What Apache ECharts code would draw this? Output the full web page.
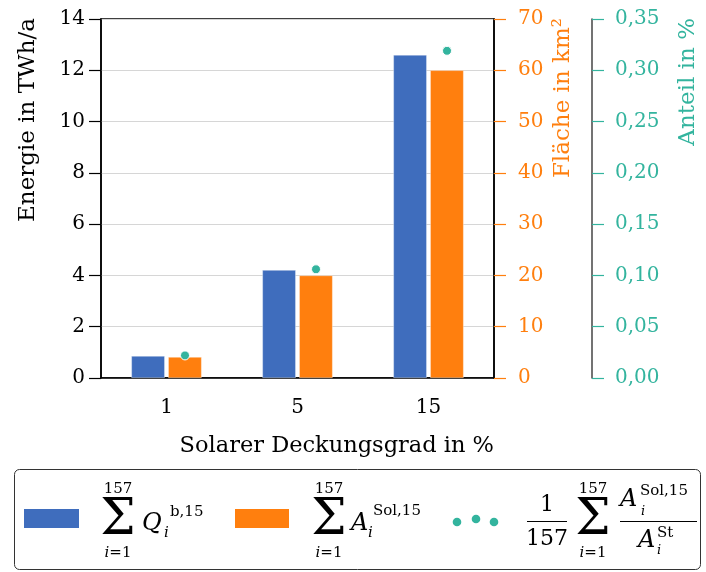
<!DOCTYPE html>
<html>
<head>
<meta charset="utf-8">
<script src="https://cdn.jsdelivr.net/npm/echarts@6/dist/echarts.min.js"></script>
<style>
  html, body { margin: 0; padding: 0; background: #fff; }
  #chart { width: 706px; height: 572px; }
</style>
</head>
<body>
<div id="chart"></div>
<script>
// Solar coverage scenarios and resulting energy, collector area and area share
const categories = ['1', '5', '15'];
const energyTWh = [0.86, 4.21, 12.6];     // sum of Q_i^{b,15}, TWh/a
const areaKm2 = [4.1, 20, 60];            // sum of A_i^{Sol,15}, km²
const sharePct = [0.022, 0.106, 0.319];   // mean A^Sol / A^St, %

const energyTicks = { min: 0, max: 14, interval: 2 };
const areaTicks = { min: 0, max: 70, interval: 10 };
const shareTicks = { min: 0, max: 0.35, interval: 0.05 };

const BLUE = '#3f6dbd';
const ORANGE = '#ff7f0e';
const TEAL = '#33b49e';
const FONT = '"DejaVu Serif", "Liberation Serif", serif';

const chart = echarts.init(document.getElementById('chart'), null, { renderer: 'canvas' });

const G = { left: 101, right: 212, top: 19, bottom: 194 };

function txt(x, y, text, size, opts) {
  opts = opts || {};
  return {
    type: 'text', x: x, y: y, z: 100,
    style: {
      text: text,
      font: (opts.italic ? 'italic ' : '') + size + 'px ' + FONT,
      fill: opts.color || '#000',
      textAlign: opts.align || 'center',
      textVerticalAlign: 'middle',
      rich: opts.rich
    },
    rotation: opts.rotation || 0
  };
}
function limit(x, y) {
  return {
    type: 'text', x: x, y: y, z: 100,
    style: {
      text: '{i|i}=1',
      font: '15px ' + FONT,
      fill: '#000',
      textAlign: 'center',
      textVerticalAlign: 'middle',
      rich: { i: { fontStyle: 'italic', fontSize: 15, fontFamily: FONT } }
    }
  };
}
function sumBlock(cx) {
  return [
    txt(cx, 489, '157', 15),
    txt(cx, 521, 'Σ', 50),
    limit(cx, 553)
  ];
}
function hline(x1, x2, y) {
  return { type: 'line', z: 100, shape: { x1: x1, y1: y, x2: x2, y2: y }, style: { stroke: '#000', lineWidth: 1 } };
}

const legendGraphics = [
  { type: 'rect', z: 90, shape: { x: 14.5, y: 469.5, width: 686, height: 100, r: 5 },
    style: { fill: '#fff', stroke: '#333', lineWidth: 1 } },
  { type: 'rect', z: 100, shape: { x: 24, y: 509, width: 55, height: 19 }, style: { fill: BLUE } },
  { type: 'rect', z: 100, shape: { x: 235, y: 509, width: 54, height: 19 }, style: { fill: ORANGE } },
  { type: 'circle', z: 100, shape: { cx: 457, cy: 522, r: 4.3 }, style: { fill: TEAL } },
  { type: 'circle', z: 100, shape: { cx: 476, cy: 519, r: 4.3 }, style: { fill: TEAL } },
  { type: 'circle', z: 100, shape: { cx: 494, cy: 522, r: 4.3 }, style: { fill: TEAL } }
]
  // sum of Q_i^{b,15}
  .concat(sumBlock(118))
  .concat([
    txt(142, 524, 'Q', 24, { italic: true, align: 'left' }),
    txt(170, 512, 'b,15', 15, { align: 'left' }),
    txt(164, 533, 'i', 15, { italic: true, align: 'left' })
  ])
  // sum of A_i^{Sol,15}
  .concat(sumBlock(329))
  .concat([
    txt(351, 524, 'A', 24, { italic: true, align: 'left' }),
    txt(373, 511, 'Sol,15', 15, { align: 'left' }),
    txt(368, 533, 'i', 15, { italic: true, align: 'left' })
  ])
  // 1/157 * sum of A_i^{Sol,15} / A_i^{St}
  .concat([
    txt(547, 505, '1', 22),
    hline(527, 567, 521.5),
    txt(547, 539, '157', 22)
  ])
  .concat(sumBlock(593))
  .concat([
    txt(620, 500, 'A', 24, { italic: true, align: 'left' }),
    txt(640, 491, 'Sol,15', 15, { align: 'left' }),
    txt(641, 512, 'i', 13, { italic: true, align: 'left' }),
    hline(620, 697, 521.5),
    txt(638, 541, 'A', 24, { italic: true, align: 'left' }),
    txt(657, 533, 'St', 15, { align: 'left' }),
    txt(657, 551, 'i', 13, { italic: true, align: 'left' })
  ]);

const axisNames = [
  txt(28, 18, 'Energie in TWh/a', 23, { align: 'right', rotation: Math.PI / 2 }),
  txt(563, 18, 'Fläche in km²', 23, { align: 'right', rotation: Math.PI / 2, color: ORANGE }),
  txt(688, 18, 'Anteil in %', 23, { align: 'right', rotation: Math.PI / 2, color: TEAL }),
  txt(494, 446, 'Solarer Deckungsgrad in %', 22.5, { align: 'right' })
];

const option = {
  animation: false,
  backgroundColor: '#fff',
  textStyle: { fontFamily: FONT },
  grid: Object.assign({ show: true, borderColor: '#000', borderWidth: 1.5, backgroundColor: 'transparent' }, G),
  xAxis: {
    type: 'category',
    data: categories,
    axisLine: { lineStyle: { color: '#000', width: 1.5 } },
    axisTick: { alignWithLabel: true, length: 12, lineStyle: { color: '#000', width: 1.2 } },
    axisLabel: { color: '#000', fontSize: 20, fontFamily: FONT, margin: 20 },
    splitLine: { show: false }
  },
  yAxis: [
    {
      type: 'value', position: 'left',
      min: energyTicks.min, max: energyTicks.max, interval: energyTicks.interval,
      axisLine: { show: true, lineStyle: { color: '#000', width: 1.5 } },
      axisTick: { show: true, length: 12, lineStyle: { color: '#000', width: 1.2 } },
      axisLabel: { color: '#000', fontSize: 20, fontFamily: FONT, margin: 16 },
      splitLine: { show: true, lineStyle: { color: '#d6d6d6', width: 1 } }
    },
    {
      type: 'value', position: 'right', offset: 0,
      min: areaTicks.min, max: areaTicks.max, interval: areaTicks.interval,
      axisLine: { show: true, lineStyle: { color: '#000', width: 1.5 } },
      axisTick: { show: true, length: 12, lineStyle: { color: ORANGE, width: 1.2 } },
      axisLabel: { color: ORANGE, fontSize: 20, fontFamily: FONT, margin: 24 },
      splitLine: { show: false }
    },
    {
      type: 'value', position: 'right', offset: 98,
      min: shareTicks.min, max: shareTicks.max, interval: shareTicks.interval,
      axisLine: { show: true, lineStyle: { color: '#444', width: 1.5 } },
      axisTick: { show: true, length: 12, lineStyle: { color: TEAL, width: 1.2 } },
      axisLabel: {
        color: TEAL, fontSize: 20, fontFamily: FONT, margin: 23,
        formatter: v => v.toFixed(2).replace('.', ',')
      },
      splitLine: { show: false }
    }
  ],
  series: [
    {
      name: 'Energie', type: 'bar', yAxisIndex: 0, data: energyTWh,
      barWidth: 33.5, barGap: '10%',
      itemStyle: { color: BLUE, borderColor: 'rgba(255,255,255,0.6)', borderWidth: 0.6 }
    },
    {
      name: 'Fläche', type: 'bar', yAxisIndex: 1, data: areaKm2,
      barWidth: 33.5, barGap: '10%',
      itemStyle: { color: ORANGE, borderColor: 'rgba(255,255,255,0.6)', borderWidth: 0.6 }
    },
    {
      name: 'Anteil', type: 'scatter', yAxisIndex: 2, data: sharePct,
      symbol: 'circle', symbolSize: 9, symbolOffset: [18.5, 0], z: 5,
      itemStyle: { color: TEAL, borderColor: '#fff', borderWidth: 1, opacity: 1 }
    }
  ],
  graphic: axisNames.concat(legendGraphics)
};

chart.setOption(option);
</script>
</body>
</html>
